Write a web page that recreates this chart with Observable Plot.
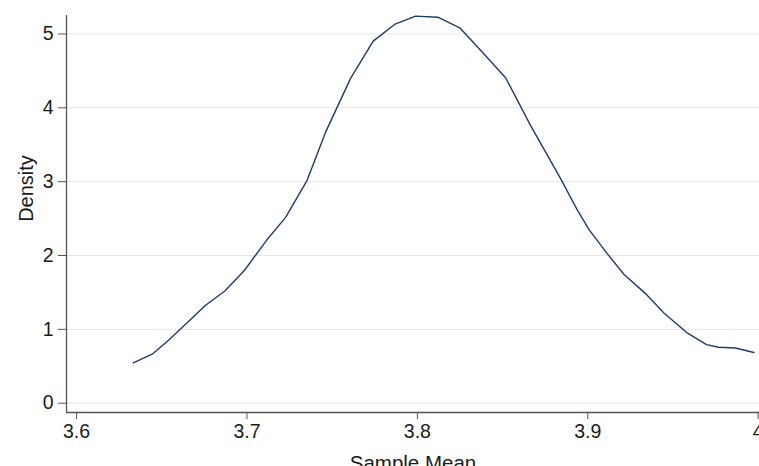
<!DOCTYPE html>
<html><head><meta charset="utf-8">
<script src="https://cdn.jsdelivr.net/npm/d3@7"></script>
<script src="https://cdn.jsdelivr.net/npm/@observablehq/plot@0.6"></script>
<style>html,body{margin:0;padding:0;background:#fff;overflow:hidden}</style>
</head><body><div id="chart"></div>
<script>
const sampleMean = [3.6333, 3.6444, 3.6540, 3.6646, 3.6757, 3.6869, 3.6986, 3.7115, 3.7227, 3.7353,
  3.7461, 3.7608, 3.7741, 3.7866, 3.7989, 3.8120, 3.8249, 3.8383, 3.8518, 3.8664,
  3.8840, 3.8940, 3.9011, 3.9114, 3.9212, 3.9339, 3.9447, 3.9584, 3.9697, 3.9768,
  3.9867, 3.9975];
const density = [0.545, 0.663, 0.853, 1.083, 1.326, 1.516, 1.800, 2.206, 2.517, 3.018,
  3.667, 4.398, 4.903, 5.129, 5.241, 5.227, 5.084, 4.750, 4.407, 3.762,
  3.045, 2.612, 2.341, 2.026, 1.746, 1.484, 1.222, 0.951, 0.794, 0.758,
  0.748, 0.686];
const xTicks = [3.6, 3.7, 3.8, 3.9, 4];
const xTickLabels = ["3.6", "3.7", "3.8", "3.9", "4"];
const yTicks = [0, 1, 2, 3, 4, 5];
const yTickLabels = ["0", "1", "2", "3", "4", "5"];
const xDomain = [3.5941, 4.0008];
const yDomain = [-0.126, 5.25];
const xTitle = "Sample Mean";
const yTitle = "Density";

const data = sampleMean.map((x, i) => ({x, y: density[i]}));

const chart = Plot.plot({
  width: 759, height: 466,
  marginLeft: 66, marginRight: 0, marginTop: 15, marginBottom: 54,
  style: {fontFamily: "'Liberation Sans', Arial, Helvetica, sans-serif", fontSize: "19px", background: "#fff", color: "#1a1a1a", overflow: "visible"},
  x: {domain: xDomain},
  y: {domain: yDomain},
  marks: [
    Plot.gridY(yTicks, {stroke: "#e6e6e6", strokeOpacity: 1, strokeWidth: 1}),
    Plot.ruleX([xDomain[0]], {stroke: "#555", strokeWidth: 1.3}),
    Plot.ruleY([yDomain[0]], {stroke: "#555", strokeWidth: 1.3}),
    Plot.axisY(yTicks, {tickSize: 8, tickPadding: 5, stroke: "#555", fill: "#1a1a1a", label: null,
      tickFormat: d => yTickLabels[yTicks.indexOf(d)], fontSize: 19.5}),
    Plot.axisX(xTicks, {tickSize: 7, tickPadding: 5, stroke: "#555", fill: "#1a1a1a", label: null,
      tickFormat: d => xTickLabels[xTicks.indexOf(d)], fontSize: 19.5}),
    Plot.line(data, {x: "x", y: "y", stroke: "#1f3d68", strokeWidth: 1.4}),
    Plot.text([xTitle], {text: d => d, frameAnchor: "bottom", lineAnchor: "bottom", textAnchor: "middle", dy: 57, fontSize: 20.5, fill: "#1a1a1a"}),
    Plot.text([yTitle], {text: d => d, frameAnchor: "left", rotate: -90, textAnchor: "middle", dx: -40, dy: -25.5, fontSize: 20, fill: "#1a1a1a"})
  ]
});
document.getElementById("chart").append(chart);
</script>
</body></html>
